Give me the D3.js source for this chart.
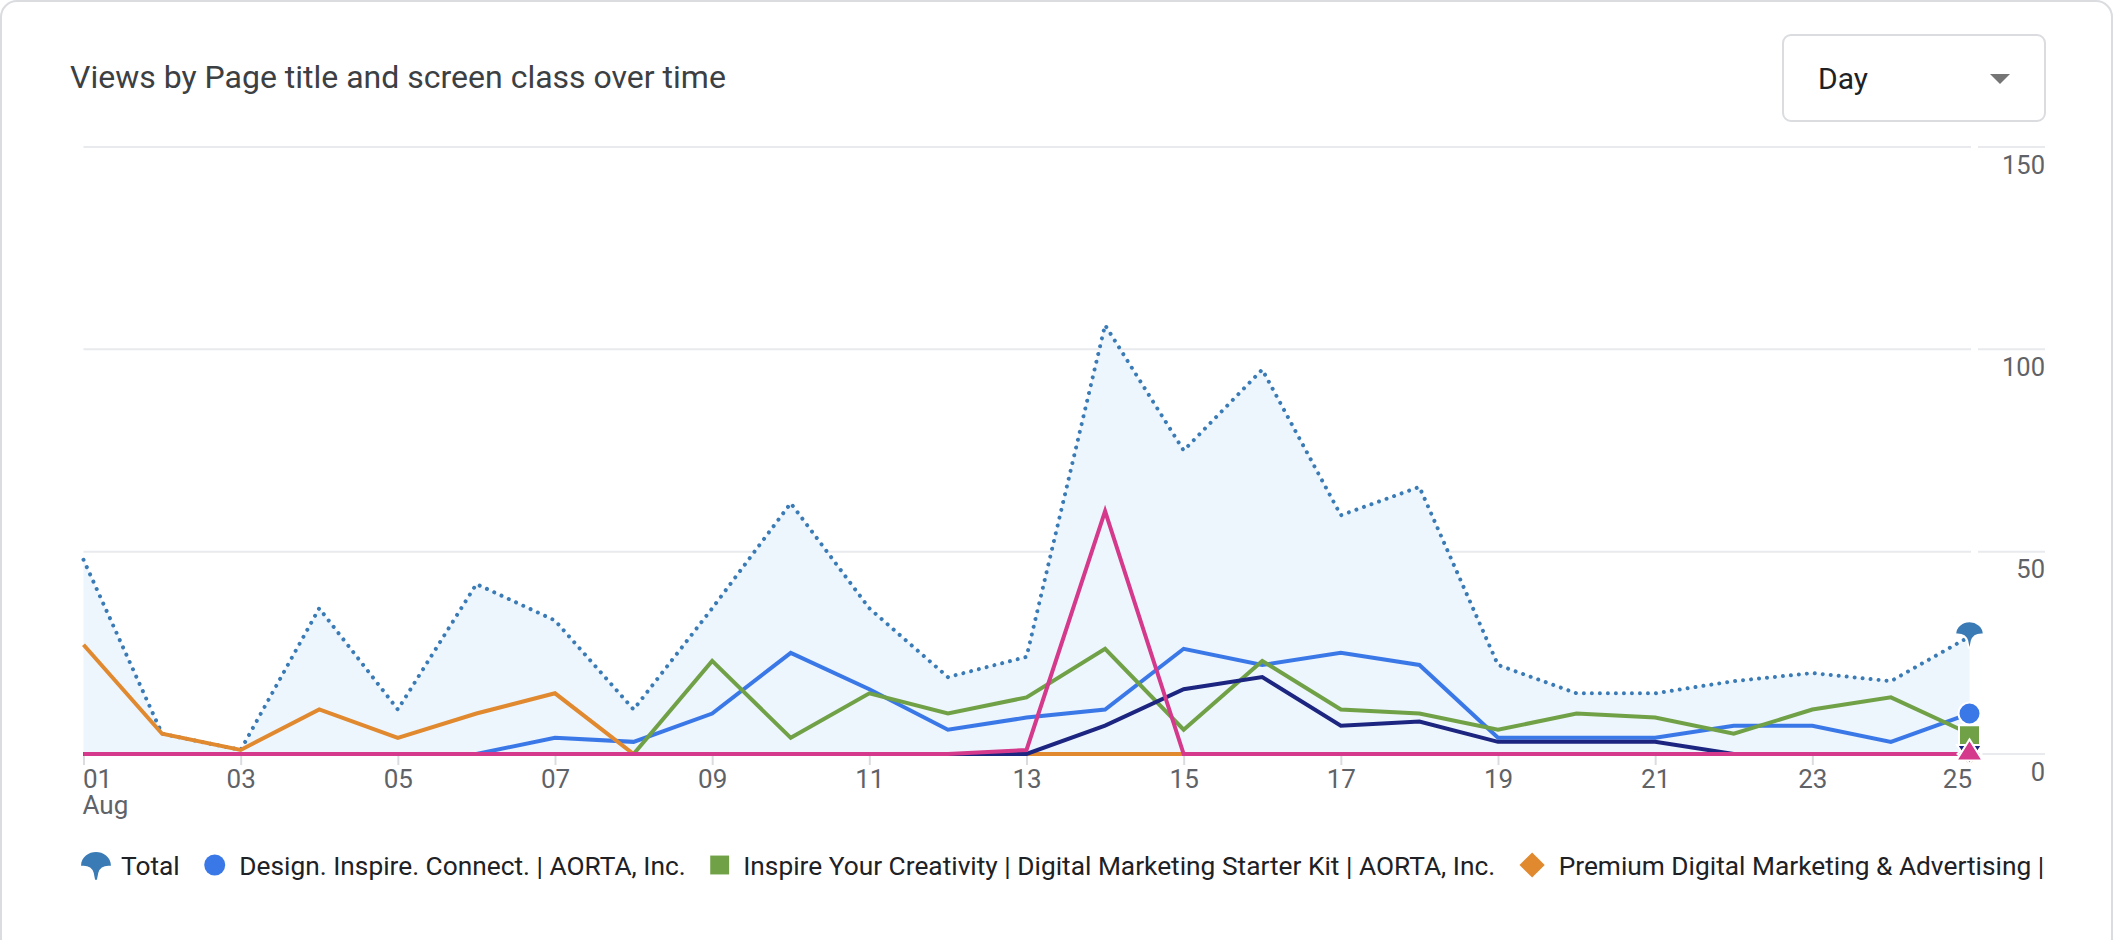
<!DOCTYPE html>
<html><head><meta charset="utf-8">
<script src="https://cdn.jsdelivr.net/npm/d3@7"></script>
<style>
html,body{margin:0;padding:0;background:#fff;}
svg{display:block;font-family:Roboto,"Noto Sans",sans-serif;}
</style>
</head><body>
<svg id="chart" width="2116" height="940"></svg>
<script>
// ---------- data ----------
const chartTitle = "Views by Page title and screen class over time";
const periodLabel = "Day";
const monthLabel = "Aug";
const days = [1,2,3,4,5,6,7,8,9,10,11,12,13,14,15,16,17,18,19,20,21,22,23,24,25];
const xTickDays = [1,3,5,7,9,11,13,15,17,19,21,23,25];
const yTicks = [0,50,100,150];
const legendNames = [
  "Total",
  "Design. Inspire. Connect. | AORTA, Inc.",
  "Inspire Your Creativity | Digital Marketing Starter Kit | AORTA, Inc.",
  "Premium Digital Marketing & Advertising |"
];
const totalViews   = [48,5,1,36,11,42,33,11,36,62,36,19,24,106,75,95,59,66,22,15,15,18,20,18,29];
const designViews  = [0,0,0,0,0,0,4,3,10,25,16,6,9,11,26,22,25,22,4,4,4,7,7,3,10];
const inspireViews = [0,0,0,0,0,0,0,0,23,4,15,10,14,26,6,23,11,10,6,10,9,5,11,14,5];
const premiumViews = [27,5,1,11,4,10,15,0,0,0,0,0,0,0,0,0,0,0,0,0,0,0,0,0,0];
const series5Views = [0,0,0,0,0,0,0,0,0,0,0,0,0,7,16,19,7,8,3,3,3,0,0,0,0];
const series6Views = [0,0,0,0,0,0,0,0,0,0,0,0,1,60,0,0,0,0,0,0,0,0,0,0,0];

// ---------- styles ----------
const C = {
  total: "#3a7bb5", area: "#edf5fd", design: "#3b78e7", inspire: "#71a147",
  premium: "#e0892f", s5: "#1c2580", s6: "#d4398b",
  grid: "#e8eaed", axisText: "#5f6368", title: "#3c4043", legend: "#202124", border: "#dadce0"
};

const svg = d3.select("#chart");
svg.append("rect").attr("width",2116).attr("height",940).attr("fill","#fff");
// card
svg.append("rect").attr("x",1).attr("y",1).attr("width",2111).attr("height",1000)
  .attr("rx",16).attr("fill","#fff").attr("stroke",C.border).attr("stroke-width",2);

// title
svg.append("text").attr("x",70).attr("y",88).attr("font-size",32).attr("fill",C.title)
  .text(chartTitle);

// dropdown
svg.append("rect").attr("x",1783).attr("y",35).attr("width",262).attr("height",86).attr("rx",8)
  .attr("fill","#fff").attr("stroke",C.border).attr("stroke-width",2);
svg.append("text").attr("x",1818).attr("y",89).attr("font-size",30).attr("fill","#202124").text(periodLabel);
svg.append("path").attr("d","M1990,74 L2010,74 L2000,84 Z").attr("fill","#757575");

// scales
const x = d3.scaleLinear().domain([1,25]).range([83.5,1969.5]);
const y = d3.scaleLinear().domain([0,150]).range([754,147]);

// gridlines
const grid = svg.append("g");
grid.selectAll("line.g1").data(yTicks).join("line").attr("class","g1")
  .attr("x1",x(1)).attr("x2",x(25)+1.5).attr("y1",d=>y(d)).attr("y2",d=>y(d))
  .attr("stroke",C.grid).attr("stroke-width",2);
grid.selectAll("line.g2").data(yTicks).join("line").attr("class","g2")
  .attr("x1",1978).attr("x2",2045).attr("y1",d=>y(d)).attr("y2",d=>y(d))
  .attr("stroke",C.grid).attr("stroke-width",2);

// y axis labels
const yAxis = svg.append("g").attr("transform","translate(2045,0)")
  .call(d3.axisRight(y).tickValues(yTicks).tickSize(0).tickFormat(d3.format("d")));
yAxis.select(".domain").remove();
yAxis.selectAll("text").attr("x",0).attr("dy",null).attr("y",26)
  .attr("text-anchor","end").attr("font-size",25.5).attr("fill",C.axisText)
  .attr("font-family","Roboto");

// x axis
const xAxis = svg.append("g").attr("transform",`translate(0,${y(0)+1})`)
  .call(d3.axisBottom(x).tickValues(xTickDays).tickSize(10).tickFormat(d3.format("02d")));
xAxis.select(".domain").remove();
xAxis.selectAll(".tick line").attr("stroke",C.border).attr("stroke-width",2);
xAxis.selectAll("text").attr("y",33).attr("dy",null).attr("font-size",26)
  .attr("fill",C.axisText).attr("font-family","Roboto")
  .attr("text-anchor",(d,i,n)=> i===0 ? "start" : (i===n.length-1 ? "end" : "middle"))
  .attr("x",(d,i,n)=> i===0 ? -1 : (i===n.length-1 ? 2 : 0));
svg.append("text").attr("x",x(1)-1).attr("y",y(0)+60).attr("font-size",26)
  .attr("fill",C.axisText).text(monthLabel);

// data rows
const rows = s => days.map((d,i)=>({day:d, v:s[i]}));

// area + total
svg.append("path").datum(rows(totalViews))
  .attr("d", d3.area().x(d=>x(d.day)).y0(y(0)).y1(d=>y(d.v)))
  .attr("fill",C.area);
svg.append("path").datum(rows(totalViews))
  .attr("d", d3.line().x(d=>x(d.day)).y(d=>y(d.v)))
  .attr("fill","none").attr("stroke",C.total).attr("stroke-width",4)
  .attr("stroke-linecap","round").attr("stroke-dasharray","0.01 8");

const lineGen = d3.line().x(d=>x(d.day)).y(d=>y(d.v));
const lineSeries = [
  {vals:designViews, color:C.design},
  {vals:inspireViews, color:C.inspire},
  {vals:premiumViews, color:C.premium},
  {vals:series5Views, color:C.s5},
  {vals:series6Views, color:C.s6}
];
svg.append("g").selectAll("path").data(lineSeries).join("path")
  .attr("d", d=>lineGen(rows(d.vals)))
  .attr("fill","none").attr("stroke",d=>d.color).attr("stroke-width",4);

// marker shapes
function totalShape(s){
  return `M${-13*s},${-1*s} C${-13*s},${-9*s} ${-6*s},${-13*s} 0,${-13*s} C${6*s},${-13*s} ${13*s},${-9*s} ${13*s},${-1*s}`+
    ` Q${4*s},${-2*s} ${2*s},${5*s} L${0.8*s},${11*s} L${-0.8*s},${11*s} L${-2*s},${5*s} Q${-4*s},${-2*s} ${-13*s},${-1*s} Z`;
}
const shapes = {
  total: s=>totalShape(s),
  circle: s=>`M${-10*s},0 A${10*s},${10*s} 0 1 1 ${10*s},0 A${10*s},${10*s} 0 1 1 ${-10*s},0 Z`,
  square: s=>`M${-10.5*s},${-10.5*s} h${21*s} v${21*s} h${-21*s} Z`,
  diamond: s=>`M0,${-12*s} L${12*s},0 L0,${12*s} L${-12*s},0 Z`,
  down: s=>`M${-12.5*s},${-9*s} L${12.5*s},${-9*s} L0,${10*s} Z`,
  up: s=>`M0,${-12*s} L${12.5*s},${8*s} L${-12.5*s},${8*s} Z`
};

// end markers (day 25)
const last = days.length-1;
const endMarkers = [
  {vals:totalViews, color:C.total, shape:"total", dy:-1, sc:1.1},
  {vals:designViews, color:C.design, shape:"circle", dy:0, sc:1.1},
  {vals:inspireViews, color:C.inspire, shape:"square", dy:2, sc:1},
  {vals:premiumViews, color:C.premium, shape:"diamond", dy:0, sc:1},
  {vals:series5Views, color:C.s5, shape:"down", dy:0, sc:1},
  {vals:series6Views, color:C.s6, shape:"up", dy:-2, sc:1.05}
];
svg.append("g").selectAll("path").data(endMarkers).join("path")
  .attr("transform", d=>`translate(${x(days[last])},${y(d.vals[last])+d.dy})`)
  .attr("d", d=>shapes[d.shape](d.sc))
  .attr("fill", d=>d.color).attr("stroke","#fff").attr("stroke-width",2);

// legend
const legendItems = [
  {name:legendNames[0], color:C.total, shape:"total", sc:1.15, half:15},
  {name:legendNames[1], color:C.design, shape:"circle", sc:1.05, half:10.5},
  {name:legendNames[2], color:C.inspire, shape:"square", sc:0.9, half:9.5},
  {name:legendNames[3], color:C.premium, shape:"diamond", sc:1.05, half:12.5}
];
const lg = svg.append("g");
let cx = 96;
const ly = 865;
legendItems.forEach((it,i)=>{
  lg.append("path").attr("transform",`translate(${cx},${it.shape==="total"?ly+2:ly})`)
    .attr("d", shapes[it.shape](it.sc)).attr("fill",it.color);
  const tx = cx + it.half + (i===0 ? 10 : 14);
  const t = lg.append("text").attr("x",tx).attr("y",ly+10).attr("font-size",26.3)
    .attr("fill",C.legend).text(it.name);
  const next = legendItems[i+1];
  if (next) cx = tx + t.node().getComputedTextLength() + 24.5 + next.half;
});
</script>
</body></html>
